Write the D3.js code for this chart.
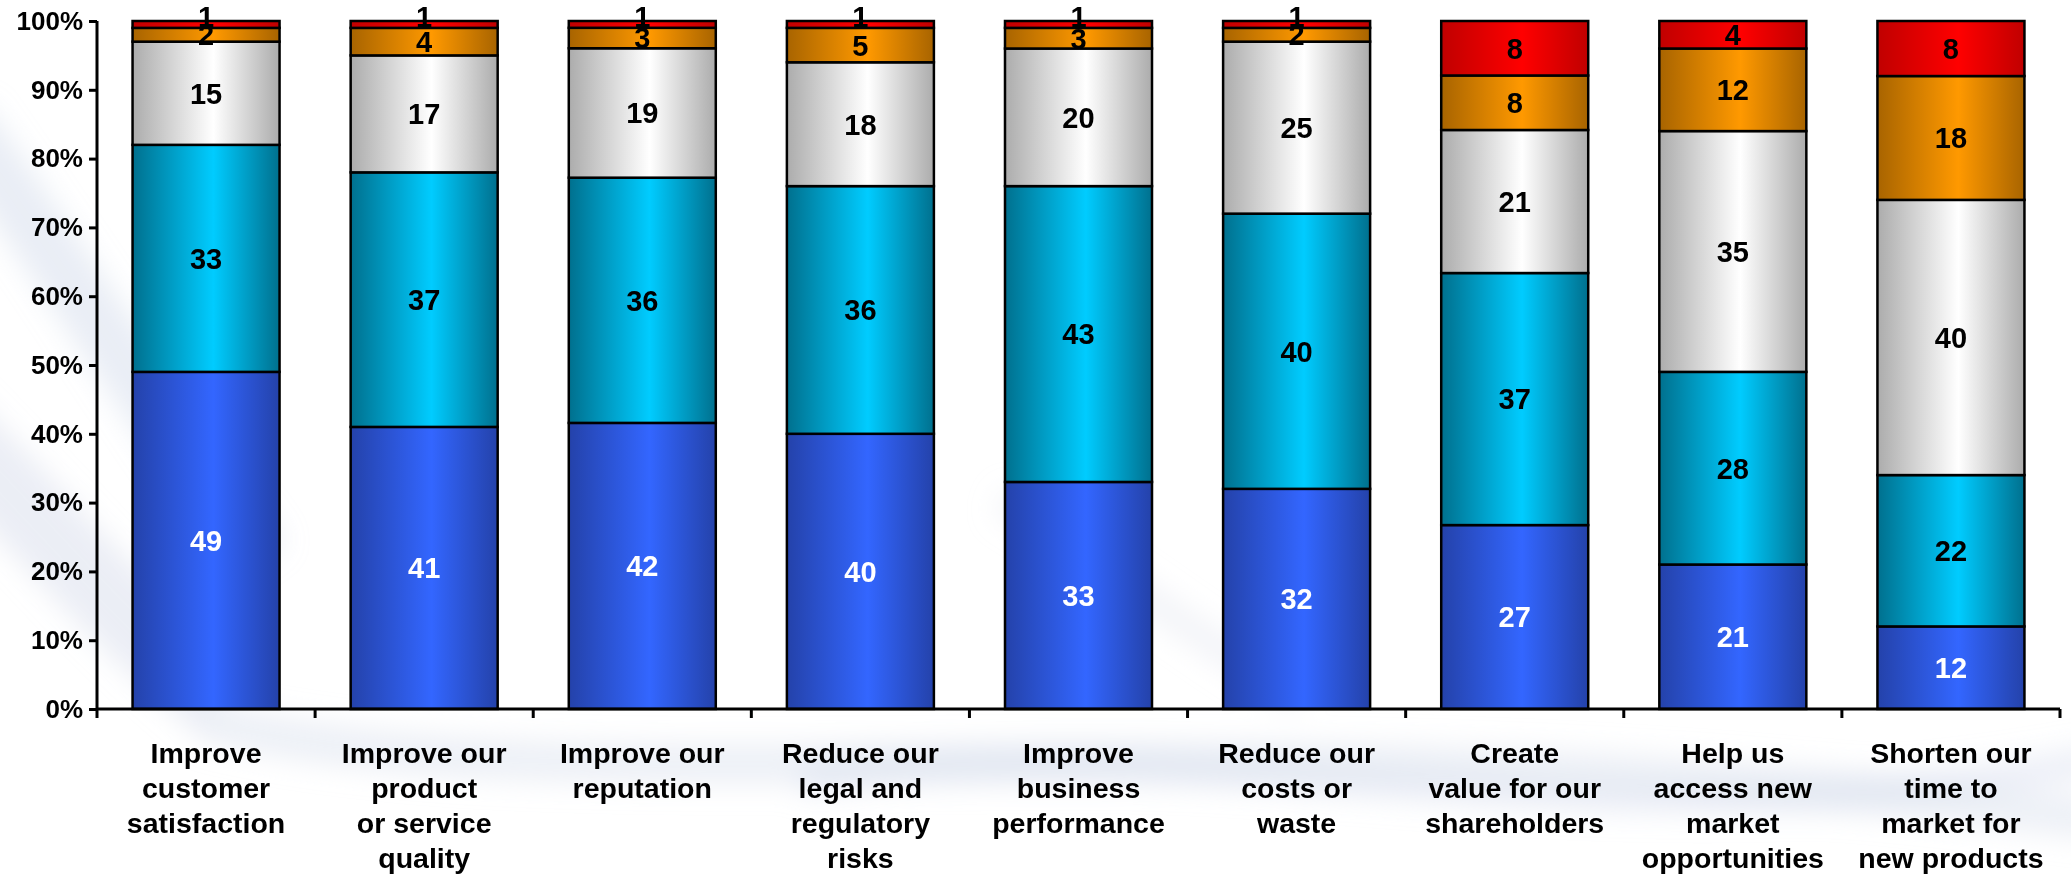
<!DOCTYPE html>
<head>
  <meta charset="utf-8">
  <script src="https://d3js.org/d3.v7.min.js"></script>
  <style>
    body { margin: 0; background: #fff; }
    text { font-family: "Liberation Sans", Arial, sans-serif; font-weight: bold; }
  </style>
</head>
<body>
  <svg width="2071" height="877"></svg>
  <script>
    // categories, bottom to top series values (percent of respondents)
    const categories = [
      'Improve\ncustomer\nsatisfaction',
      'Improve our\nproduct\nor service\nquality',
      'Improve our\nreputation',
      'Reduce our\nlegal and\nregulatory\nrisks',
      'Improve\nbusiness\nperformance',
      'Reduce our\ncosts or\nwaste',
      'Create\nvalue for our\nshareholders',
      'Help us\naccess new\nmarket\nopportunities',
      'Shorten our\ntime to\nmarket for\nnew products'
    ];
    const s1 = [49, 41, 42, 40, 33, 32, 27, 21, 12];
    const s2 = [33, 37, 36, 36, 43, 40, 37, 28, 22];
    const s3 = [15, 17, 19, 18, 20, 25, 21, 35, 40];
    const s4 = [2, 4, 3, 5, 3, 2, 8, 12, 18];
    const s5 = [1, 1, 1, 1, 1, 1, 8, 4, 8];
    const yTicks = [0, 0.1, 0.2, 0.3, 0.4, 0.5, 0.6, 0.7, 0.8, 0.9, 1];

    const series = [s1, s2, s3, s4, s5];
    const seriesColors = [
      { edge: '#2442aa', mid: '#3366ff', label: '#fff' },
      { edge: '#00708e', mid: '#00ccff', label: '#000' },
      { edge: '#acacac', mid: '#ffffff', label: '#000' },
      { edge: '#a86400', mid: '#ff9900', label: '#000' },
      { edge: '#c00000', mid: '#ff0000', label: '#000' }
    ];

    const svg = d3.select('svg');
    const defs = svg.append('defs');

    // faint swooshes in the background
    defs.append('filter').attr('id', 'blur')
      .attr('x', '-50%').attr('y', '-50%').attr('width', '200%').attr('height', '200%')
      .append('feGaussianBlur').attr('stdDeviation', 14);
    const bg = svg.append('g').attr('filter', 'url(#blur)').attr('fill', 'none');
    const swooshes = [
      { d: 'M-40,120 C60,260 160,420 260,560', w: 60, c: '#c9d2e6', o: 0.4 },
      { d: 'M-60,420 C40,520 120,620 220,700', w: 80, c: '#d3d9e8', o: 0.45 },
      { d: 'M200,720 C600,820 1200,700 2100,820', w: 40, c: '#d7ddec', o: 0.45 },
      { d: 'M800,780 C1200,720 1600,860 2100,760', w: 30, c: '#cfd7ea', o: 0.4 },
      { d: 'M1000,500 C1100,560 1200,640 1300,700', w: 30, c: '#e0e4ee', o: 0.4 }
    ];
    swooshes.forEach(s => bg.append('path').attr('d', s.d)
      .attr('stroke', s.c).attr('stroke-width', s.w).attr('opacity', s.o));

    seriesColors.forEach((c, i) => {
      const g = defs.append('linearGradient').attr('id', 'grad' + i)
        .attr('x1', 0).attr('x2', 1).attr('y1', 0).attr('y2', 0);
      g.append('stop').attr('offset', '0%').attr('stop-color', c.edge);
      g.append('stop').attr('offset', '55%').attr('stop-color', c.mid);
      g.append('stop').attr('offset', '100%').attr('stop-color', c.edge);
    });

    const plotLeft = 97, plotRight = 2060, plotTop = 21, plotBottom = 709;

    const x = d3.scaleBand().domain(d3.range(categories.length))
      .range([plotLeft, plotRight]).padding(0);
    const barW = x.step() * 0.674;
    const y = d3.scaleLinear().domain([0, 1]).range([plotBottom, plotTop]);

    // stacked, normalised to 100%
    const rows = categories.map((c, i) => {
      const vals = series.map(s => s[i]);
      const total = d3.sum(vals);
      let acc = 0;
      return vals.map((v, k) => {
        const seg = { cat: i, k, v, y0: acc / total, y1: (acc + v) / total };
        acc += v;
        return seg;
      });
    });

    const bars = svg.append('g');
    rows.forEach(row => {
      const g = bars.append('g');
      g.selectAll('rect').data(row).join('rect')
        .attr('x', d => x(d.cat) + (x.step() - barW) / 2)
        .attr('width', barW)
        .attr('y', d => y(d.y1))
        .attr('height', d => y(d.y0) - y(d.y1))
        .attr('fill', d => `url(#grad${d.k})`)
        .attr('stroke', '#000')
        .attr('stroke-width', 2.5);
    });

    // label centred in its segment; very thin segments push the label up
    const labelY = d => {
      const h = y(d.y0) - y(d.y1);
      return h < 10 ? y(d.y1) - 4 : y((d.y0 + d.y1) / 2);
    };
    const labels = svg.append('g').attr('text-anchor', 'middle')
      .attr('font-size', 29);
    rows.flat().forEach(d => {
      labels.append('text')
        .attr('x', x(d.cat) + x.step() / 2)
        .attr('y', labelY(d))
        .attr('dy', '0.36em')
        .attr('fill', seriesColors[d.k].label)
        .text(d.v);
    });

    // y axis
    const yAxis = svg.append('g').attr('transform', `translate(${plotLeft},0)`)
      .call(d3.axisLeft(y).tickValues(yTicks).tickFormat(d3.format('.0%'))
        .tickSize(8).tickPadding(6));
    yAxis.select('.domain').attr('stroke', '#000').attr('stroke-width', 3)
      .attr('d', `M0,${plotTop}V${plotBottom}`);
    yAxis.selectAll('.tick line').attr('stroke', '#000').attr('stroke-width', 3);
    yAxis.selectAll('.tick text').attr('font-size', 26).attr('fill', '#000')
      .attr('font-family', '"Liberation Sans", Arial, sans-serif');

    // x axis with ticks between categories
    const xAxis = svg.append('g').attr('transform', `translate(0,${plotBottom})`);
    xAxis.append('line').attr('x1', plotLeft).attr('x2', plotRight)
      .attr('stroke', '#000').attr('stroke-width', 3);
    xAxis.selectAll('.sep').data(d3.range(categories.length + 1)).join('line')
      .attr('class', 'sep')
      .attr('x1', i => plotLeft + i * x.step()).attr('x2', i => plotLeft + i * x.step())
      .attr('y1', 0).attr('y2', 9)
      .attr('stroke', '#000').attr('stroke-width', 3);

    const catLabels = svg.append('g').attr('text-anchor', 'middle')
      .attr('font-size', 28.5).attr('fill', '#000');
    categories.forEach((c, i) => {
      const t = catLabels.append('text')
        .attr('x', x(i) + x.step() / 2).attr('y', 763);
      c.split('\n').forEach((line, j) => {
        t.append('tspan').attr('x', x(i) + x.step() / 2)
          .attr('dy', j === 0 ? 0 : 35).text(line);
      });
    });
  </script>
</body>
